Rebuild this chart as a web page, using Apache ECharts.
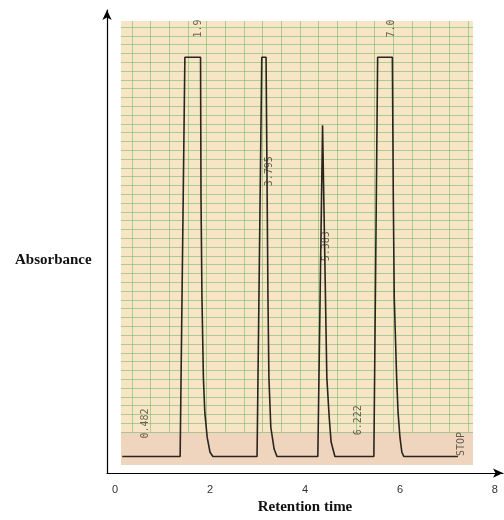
<!DOCTYPE html>
<html>
<head>
<meta charset="utf-8">
<script src="https://cdn.jsdelivr.net/npm/echarts@6/dist/echarts.min.js"></script>
<style>html,body{margin:0;padding:0;background:#fff}#c{width:504px;height:520px}</style>
</head>
<body>
<div id="c"></div>
<script>
// x tick labels
const xTicks = [0, 2, 4, 6, 8];
// detector trace (retention time, absorbance)
const traceTime = [0.15, 1.37, 1.47, 1.80, 1.81, 1.83, 1.86, 1.89, 1.94, 2.00, 2.06,
  2.99, 3.09, 3.18, 3.22, 3.24, 3.28, 3.35, 3.41,
  4.27, 4.37, 4.39, 4.46, 4.51, 4.55, 4.63,
  5.45, 5.53, 5.84, 5.86, 5.88, 5.93, 5.96, 6.00, 6.04, 6.08,
  7.22];
const traceAbs = [3.6, 3.6, 89.8, 89.8, 59.2, 37.8, 20.6, 13.1, 7.7, 4.5, 3.6,
  3.6, 89.8, 89.8, 37.8, 20.6, 9.9, 5.2, 3.6,
  3.6, 75.1, 75.1, 20.6, 12.0, 6.7, 3.6,
  3.6, 89.8, 89.8, 59.2, 37.8, 20.6, 13.1, 7.7, 4.5, 3.6,
  3.6];
// printed annotations on the recorder paper
const peakLabels = ['0.482', '1.9', '3.795', '5.383', '6.222', '7.0', 'STOP'];
const labelTime = [0.63, 1.75, 3.26, 4.46, 5.12, 5.83, 7.30];
const labelAbs = [10.7, 96.0, 65.2, 49.0, 11.4, 96.0, 6.3];

const chart = echarts.init(document.getElementById('c'), null, {renderer: 'canvas'});

const hiddenAxis = (gi, extra) => Object.assign({
  type: 'value', gridIndex: gi, min: 0, max: 1, show: false,
  splitLine: {show: false}
}, extra || {});

const green = 'rgba(125,185,110,0.6)';

const option = {
  animation: false,
  backgroundColor: '#ffffff',
  title: [{
    text: 'Absorbance', left: 10, top: 248,
    textStyle: {fontFamily: 'Liberation Serif', fontWeight: 'bold', fontSize: 15, color: '#111'}
  }],
  grid: [
    {left: 121, top: 21, width: 352, height: 444, show: true, backgroundColor: '#f0d5be', borderWidth: 0},
    {left: 121, top: 21, width: 352, height: 411, show: true, backgroundColor: '#f6e6c6', borderWidth: 0},
    {left: 132, top: 21, width: 336, height: 411, show: false},
    {left: 121, top: 27, width: 352, height: 405, show: false},
    {left: 107, top: 10, width: 396, bottom: 44, show: false}
  ],
  xAxis: [
    hiddenAxis(0), hiddenAxis(1),
    {type: 'value', gridIndex: 2, min: 0, max: 18, interval: 1,
      axisLine: {show: false}, axisTick: {show: false}, axisLabel: {show: false},
      splitLine: {show: true, lineStyle: {color: green, width: 1}}},
    hiddenAxis(3),
    {type: 'value', gridIndex: 4, min: -0.17, max: 8.17,
      name: 'Retention time', nameLocation: 'middle', nameGap: 30,
      nameTextStyle: {fontFamily: 'Liberation Serif', fontWeight: 'bold', fontSize: 15, color: '#111', verticalAlign: 'middle'},
      axisLine: {show: true, onZero: false, symbol: ['none', 'arrow'], symbolSize: [7, 10], lineStyle: {color: '#000', width: 1.2}},
      axisTick: {show: false},
      splitLine: {show: false},
      axisLabel: {customValues: xTicks, margin: 11, fontFamily: 'Liberation Sans', fontSize: 11, color: '#333'}}
  ],
  yAxis: [
    hiddenAxis(0), hiddenAxis(1), hiddenAxis(2),
    {type: 'value', gridIndex: 3, min: 0, max: 46, interval: 1,
      axisLine: {show: false}, axisTick: {show: false}, axisLabel: {show: false},
      splitLine: {show: true, lineStyle: {color: green, width: 1}}},
    {type: 'value', gridIndex: 4, min: 0, max: 100,
      axisLine: {show: true, onZero: false, symbol: ['none', 'arrow'], symbolSize: [7, 10], lineStyle: {color: '#000', width: 1.2}},
      axisTick: {show: false}, axisLabel: {show: false}, splitLine: {show: false}}
  ],
  series: [
    {
      type: 'line', xAxisIndex: 4, yAxisIndex: 4,
      data: traceTime.map((t, i) => [t, traceAbs[i]]),
      showSymbol: false, symbol: 'none',
      lineStyle: {color: '#2b241f', width: 1.6},
      z: 5
    },
    {
      type: 'scatter', xAxisIndex: 4, yAxisIndex: 4,
      data: labelTime.map((t, i) => ({name: peakLabels[i], value: [t, labelAbs[i]]})),
      symbolSize: 1, itemStyle: {color: 'rgba(0,0,0,0)'},
      label: {show: true, position: 'inside', rotate: 90, formatter: p => p.name,
        fontFamily: 'DejaVu Sans Mono', fontSize: 10, color: 'rgba(50,42,35,0.9)'},
      z: 6
    }
  ]
};
chart.setOption(option);
</script>
</body>
</html>
